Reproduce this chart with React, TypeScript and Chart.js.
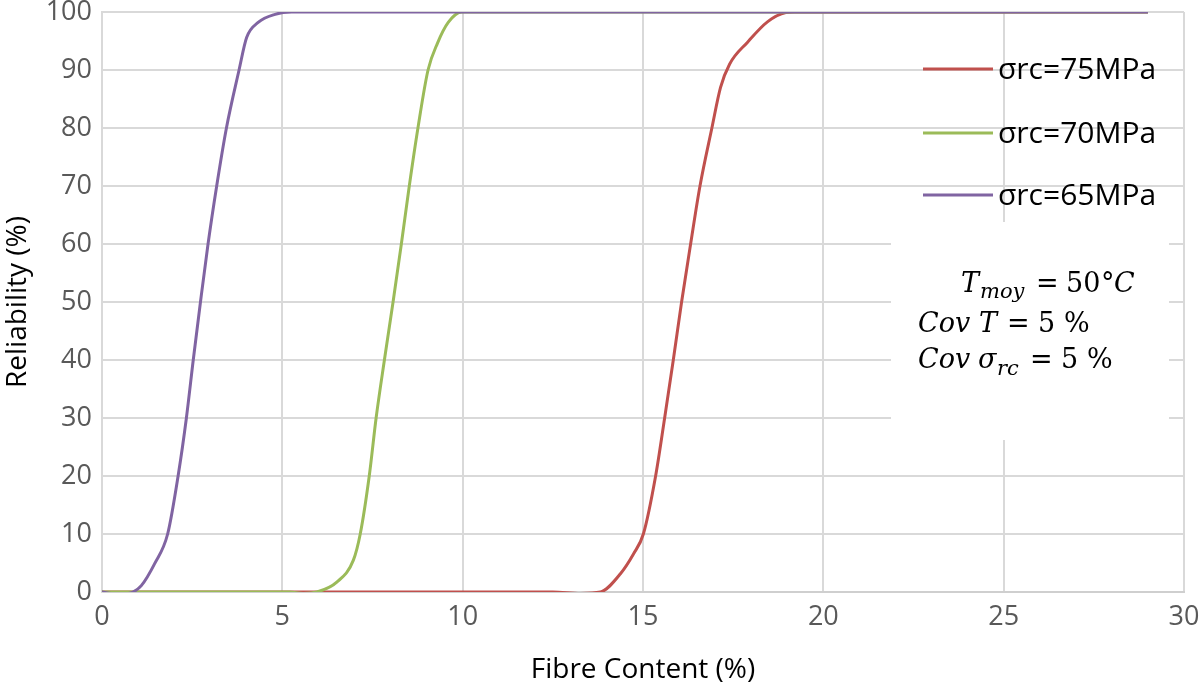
import React, { useEffect, useRef } from "react";
import { Chart, registerables } from "chart.js";

Chart.register(...registerables);

// ---- Data ----
const X_MIN = 0;
const X_MAX = 30;
const X_STEP = 5;
const Y_MIN = 0;
const Y_MAX = 100;
const Y_STEP = 10;

const X_TITLE = "Fibre Content (%)";
const Y_TITLE = "Reliability (%)";

const SERIES_LABELS = ["σrc=75MPa", "σrc=70MPa", "σrc=65MPa"];
const SERIES_COLORS = ["#C0504D", "#9BBB59", "#8064A2"];

// σrc = 75 MPa
const red75X = [0, 12.5, 13.27, 13.82, 14.38, 14.74, 15.01, 15.35, 15.6, 15.84, 16.07, 16.32, 16.58, 16.91, 17.15, 17.4, 17.9, 18.45, 18.96, 19.2, 29];
const red75Y = [0, 0, -0.25, 0, 3.2, 6.6, 10, 20, 30, 40, 50, 60, 70, 80, 87, 91, 94.8, 98.3, 99.9, 100, 100];

// σrc = 70 MPa
const green70X = [0, 5.2, 5.58, 5.96, 6.51, 6.97, 7.16, 7.41, 7.6, 7.83, 8.07, 8.3, 8.52, 8.76, 9.04, 9.3, 9.6, 9.98, 29];
const green70Y = [0, 0, -0.25, 0, 1.7, 5.5, 10, 20, 30, 40, 50, 60, 70, 80, 90, 94.6, 98.2, 100, 100];

// σrc = 65 MPa
const purple65X = [0, 0.35, 0.65, 0.86, 1.09, 1.46, 1.82, 2.11, 2.34, 2.53, 2.73, 2.94, 3.18, 3.45, 3.8, 4.01, 4.33, 4.8, 5.26, 29];
const purple65Y = [0, -0.3, -0.3, 0, 1.1, 4.9, 10, 20, 30, 40, 50, 60, 70, 80, 90, 95.6, 98.2, 99.6, 100, 100];

const toPoints = (xs: number[], ys: number[]) => xs.map((x, i) => ({ x, y: ys[i] }));

// ---- Plugins: legend + annotation ----
const legendPlugin = {
  id: "customLegend",
  afterDraw(chart: any) {
    const ctx = chart.ctx;
    const rows = [69, 133, 195];
    ctx.save();
    SERIES_LABELS.forEach((label, i) => {
      ctx.strokeStyle = SERIES_COLORS[i];
      ctx.lineWidth = 3;
      ctx.beginPath();
      ctx.moveTo(923, rows[i]);
      ctx.lineTo(993, rows[i]);
      ctx.stroke();
      ctx.fillStyle = "#000000";
      ctx.font = "30px 'Open Sans'";
      ctx.textAlign = "left";
      ctx.textBaseline = "middle";
      ctx.fillText(label, 998, rows[i] + 1);
    });
    ctx.restore();
  },
};

const annotationPlugin = {
  id: "annotationBox",
  afterDatasetsDraw(chart: any) {
    const ctx = chart.ctx;
    ctx.save();
    ctx.fillStyle = "#ffffff";
    ctx.fillRect(891, 222, 278, 218);
    ctx.fillStyle = "#000000";
    ctx.textAlign = "left";
    ctx.textBaseline = "alphabetic";
    const it = "italic 27px 'DejaVu Serif'";
    const rg = "27px 'DejaVu Serif'";
    const sub = "italic 21px 'DejaVu Serif'";
    const put = (t: string, f: string, x: number, y: number) => {
      ctx.font = f;
      ctx.fillText(t, x, y);
    };
    // line 1
    put("T", it, 961, 292);
    put("moy", sub, 980, 298);
    put("=", rg, 1036, 292);
    put("50", rg, 1066, 292);
    put("°", rg, 1101, 292);
    put("C", it, 1114, 292);
    // line 2
    put("Cov", it, 918, 332);
    put("T", it, 979, 332);
    put("=", rg, 1007, 332);
    put("5", rg, 1038, 332);
    put("%", rg, 1064, 332);
    // line 3
    put("Cov", it, 918, 368);
    put("σ", it, 978, 368);
    put("rc", sub, 997, 375);
    put("=", rg, 1030, 368);
    put("5", rg, 1061, 368);
    put("%", rg, 1087, 368);
    ctx.restore();
  },
};

export default function App() {
  const canvasRef = useRef<HTMLCanvasElement | null>(null);

  useEffect(() => {
    if (!canvasRef.current) return;
    const datasets = [
      { label: SERIES_LABELS[2], data: toPoints(purple65X, purple65Y), borderColor: SERIES_COLORS[2] },
      { label: SERIES_LABELS[1], data: toPoints(green70X, green70Y), borderColor: SERIES_COLORS[1] },
      { label: SERIES_LABELS[0], data: toPoints(red75X, red75Y), borderColor: SERIES_COLORS[0] },
    ].map((d) => ({
      ...d,
      borderWidth: 3,
      pointRadius: 0,
      fill: false,
      showLine: true,
      cubicInterpolationMode: "monotone" as const,
    }));

    const chart = new Chart(canvasRef.current, {
      type: "line",
      data: { datasets },
      options: {
        animation: false,
        responsive: true,
        maintainAspectRatio: false,
        layout: { padding: { top: 0, right: 0, left: 0, bottom: 0 } },
        plugins: {
          legend: { display: false },
          tooltip: { enabled: false },
        },
        scales: {
          x: {
            type: "linear",
            min: X_MIN,
            max: X_MAX,
            ticks: {
              stepSize: X_STEP,
              color: "#595959",
              font: { family: "'Open Sans'", size: 27 },
              padding: 9,
              maxRotation: 0,
            },
            grid: { color: "#d9d9d9", lineWidth: 2, drawTicks: false },
            border: { color: "#cfcfcf", width: 2 },
            title: {
              display: true,
              text: X_TITLE,
              color: "#000000",
              font: { family: "'Open Sans'", size: 28 },
              padding: { top: 0, bottom: 5 },
            },
            afterFit: (s: any) => {
              s.height = 100;
              s.paddingRight = 16;
              s.paddingLeft = 0;
            },
          },
          y: {
            type: "linear",
            min: Y_MIN,
            max: Y_MAX,
            ticks: {
              stepSize: Y_STEP,
              color: "#595959",
              font: { family: "'Open Sans'", size: 27, lineHeight: 0.15 },
              padding: 10,
            },
            grid: { color: "#d9d9d9", lineWidth: 2, drawTicks: false },
            border: { color: "#d9d9d9", width: 2 },
            title: {
              display: true,
              text: Y_TITLE,
              color: "#000000",
              font: { family: "'Open Sans'", size: 28 },
              padding: { top: 1, bottom: 0 },
            },
            afterFit: (s: any) => {
              s.width = 102;
              s.paddingTop = 12;
              s.paddingBottom = 0;
            },
          },
        },
      },
      plugins: [annotationPlugin, legendPlugin],
    });
    return () => chart.destroy();
  }, []);

  return (
    <div style={{ position: "absolute", left: 0, top: 0, width: 1200, height: 692, background: "#ffffff" }}>
      <canvas ref={canvasRef} />
    </div>
  );
}
